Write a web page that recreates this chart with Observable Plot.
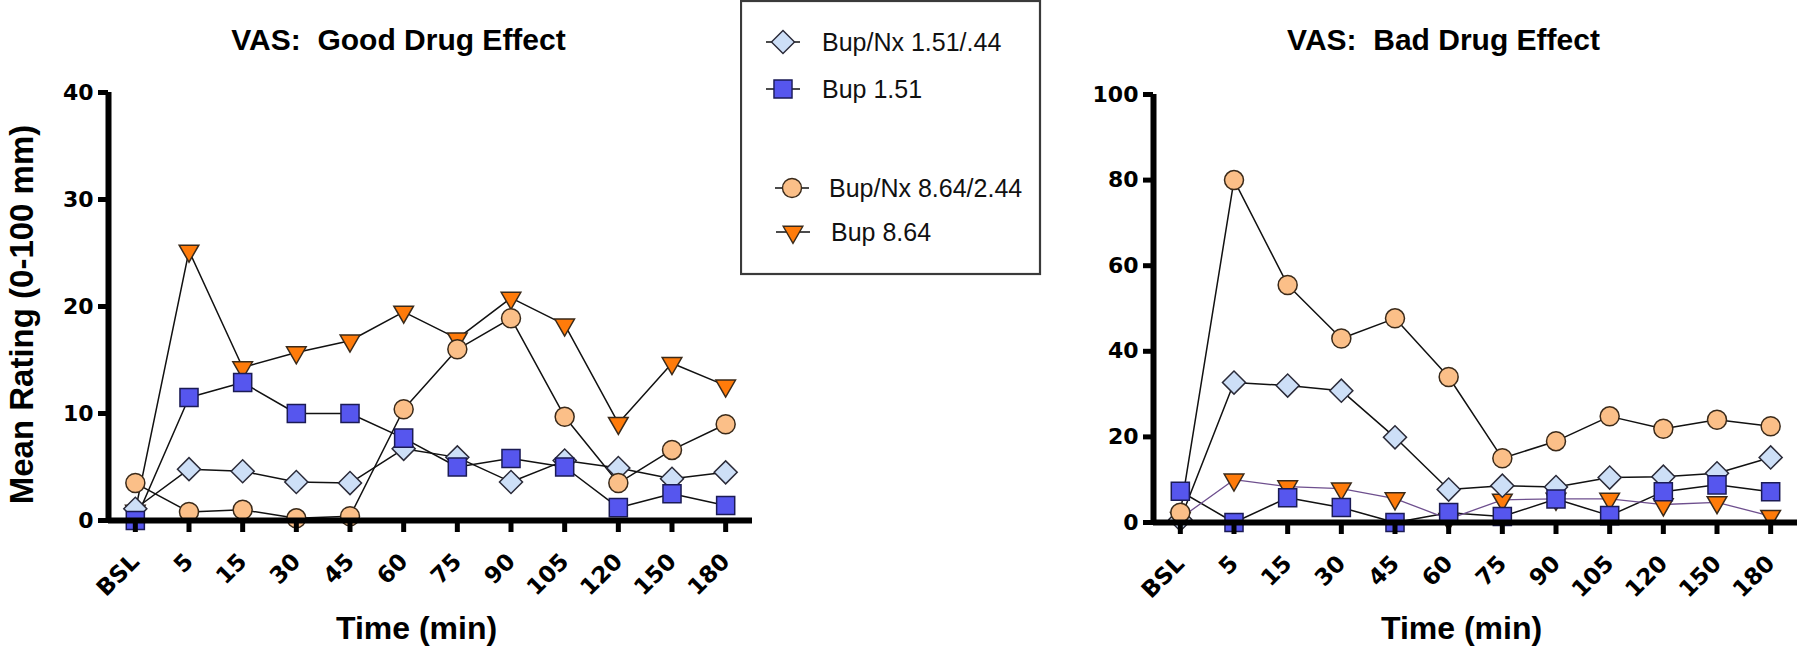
<!DOCTYPE html>
<html><head><meta charset="utf-8">
<script src="https://cdn.jsdelivr.net/npm/d3@7"></script>
<script src="https://cdn.jsdelivr.net/npm/@observablehq/plot@0.6"></script>
<style>
html,body{margin:0;padding:0;background:#fff;}
#chart{position:relative;width:1800px;height:652px;background:#fff;font-family:"Liberation Sans",Arial,sans-serif;overflow:hidden;}
#chart > div{position:absolute;top:0;}
</style></head><body><div id="chart"></div>
<script>
// ---------- data ----------
const times = ["BSL","5","15","30","45","60","75","90","105","120","150","180"];
const seriesNames = ["Bup/Nx 1.51/.44","Bup 1.51","Bup/Nx 8.64/2.44","Bup 8.64"];

// VAS: Good Drug Effect
const goodBupNx151 = [1.1, 4.8, 4.6, 3.6, 3.5, 6.7, 5.9, 3.6, 5.6, 4.9, 3.9, 4.5];
const goodBup151   = [0.0, 11.5, 12.9, 10.0, 10.0, 7.7, 5.0, 5.8, 5.0, 1.2, 2.5, 1.4];
const goodBupNx864 = [3.5, 0.8, 1.0, 0.2, 0.4, 10.4, 16.0, 18.9, 9.7, 3.5, 6.6, 9.0];
const goodBup864   = [0.9, 25.2, 14.3, 15.7, 16.8, 19.5, 17.0, 20.8, 18.3, 9.1, 14.7, 12.6];

// VAS: Bad Drug Effect
const badBupNx151 = [0.7, 32.7, 32.0, 30.8, 19.9, 7.7, 8.6, 8.3, 10.5, 10.7, 11.5, 15.2];
const badBup151   = [7.3, 0.0, 5.8, 3.5, 0.0, 2.3, 1.4, 5.5, 1.6, 7.2, 8.8, 7.2];
const badBupNx864 = [2.3, 80.0, 55.5, 43.0, 47.7, 34.0, 15.0, 19.0, 24.8, 21.9, 24.0, 22.5];
const badBup864   = [1.0, 10.0, 8.4, 7.9, 5.6, 0.8, 5.3, 5.5, 5.5, 4.2, 4.7, 1.5];

const goodTicks = [0, 10, 20, 30, 40];
const badTicks = [0, 20, 40, 60, 80, 100];

// ---------- styles ----------
const FONT = "'Liberation Sans', Arial, Helvetica, sans-serif";
const TICKFONT = "'DejaVu Sans', Verdana, sans-serif";
const styles = {
  "Bup/Nx 1.51/.44": {symbol: "square", rotate: 45, r: 9.2, fill: "#cddff7", stroke: "#2a2a38"},
  "Bup 1.51":        {symbol: "square", rotate: 0, r: 10.2, fill: "#5656ee", stroke: "#1b1b55"},
  "Bup/Nx 8.64/2.44":{symbol: "circle", rotate: 0, r: 9.5, fill: "#fbbf88", stroke: "#3a2a1a"},
  "Bup 8.64":        {symbol: "triangle", rotate: 180, r: 7.3, fill: "#ff7b0a", stroke: "#3a2a1a"}
};
const dotOrder = ["Bup 8.64", "Bup/Nx 1.51/.44", "Bup/Nx 8.64/2.44", "Bup 1.51"];

function panel(cfg) {
  const rows = name => cfg.values[name].map((v, i) => ({i, v, name}));
  const bottom = 652 - cfg.marginBottom;
  const marks = [];
  for (const name of seriesNames) {
    marks.push(Plot.line(rows(name), {x: "i", y: "v", stroke: (cfg.lineColors[name] || "#111"), strokeWidth: cfg.lineWidths[name] || 1.5}));
  }
  for (const name of dotOrder) {
    const s = styles[name];
    marks.push(Plot.dot(rows(name), {x: "i", y: "v", symbol: s.symbol, rotate: s.rotate, r: s.r, fill: s.fill, stroke: s.stroke, strokeWidth: 1.5}));
  }
  marks.push(
    Plot.ruleY([0], {strokeWidth: 6, stroke: "#000"}),
    Plot.ruleX([-0.5], {strokeWidth: 6, stroke: "#000"}),
    Plot.axisY({ticks: cfg.yTicks, tickSize: 10, tickPadding: 5, fontSize: 22, fontWeight: "bold", fontFamily: TICKFONT, strokeWidth: 5, label: null, fill: "#000"}),
    Plot.axisX({ticks: d3.range(times.length), tickSize: 12, tickFormat: () => "", strokeWidth: 5, label: null}),
    Plot.text(times, {x: (d, i) => i, text: d => d, frameAnchor: "bottom", rotate: -45, textAnchor: "end", lineAnchor: "middle", fontSize: 23, fontWeight: "bold", fontFamily: TICKFONT, fill: "#000"}),
    Plot.text([cfg.title], {text: d => d, frameAnchor: "top", lineAnchor: "bottom", dx: -32, dy: 49 - cfg.marginTop, fontSize: 30, fontWeight: "bold", fill: "#000"}),
    Plot.text(["Time (min)"], {text: d => d, frameAnchor: "bottom", lineAnchor: "bottom", dx: -14, dy: 638 - bottom, fontSize: 32, fontWeight: "bold", fill: "#000"})
  );
  if (cfg.yLabel) {
    marks.push(Plot.text([cfg.yLabel], {text: d => d, frameAnchor: "left", rotate: -90, lineAnchor: "bottom", textAnchor: "middle", dx: 32 - cfg.marginLeft, dy: 8, fontSize: 33, fontWeight: "bold", fill: "#000"}));
  }
  return Plot.plot({
    width: cfg.width, height: 652,
    marginLeft: cfg.marginLeft, marginRight: cfg.marginRight,
    marginTop: cfg.marginTop, marginBottom: cfg.marginBottom,
    x: {domain: [-0.5, times.length - 0.5]},
    y: {domain: cfg.yDomain},
    style: {fontFamily: FONT, background: "transparent", overflow: "visible"},
    marks
  });
}

// After the plot is in the page: hang each rotated time label so that its box
// ends just right of its tick and starts a fixed gap below the axis.
function hangTickLabels(svg, axisPixelY) {
  const sr = svg.getBoundingClientRect();
  svg.querySelectorAll("text").forEach(t => {
    const tr = t.getAttribute("transform") || "";
    if (!/rotate\(\s*-45/.test(tr) || !times.includes(t.textContent)) return;
    const m = tr.match(/translate\(\s*([-\d.e]+)[\s,]+([-\d.e]+)\s*\)/);
    if (!m) return;
    const g = t.parentNode;
    const gm = (g.getAttribute("transform") || "").match(/translate\(\s*([-\d.e]+)[\s,]+([-\d.e]+)\s*\)/);
    const tickX = +m[1] + (gm ? +gm[1] : 0);
    const r = t.getBoundingClientRect();
    const right = r.right - sr.left, top = r.top - sr.top;
    const sx = tickX + 9 - right, sy = axisPixelY + 28 - top;
    t.setAttribute("transform", `translate(${sx.toFixed(2)},${sy.toFixed(2)}) ` + tr);
  });
}

const chart = document.getElementById("chart");

const left = document.createElement("div");
left.style.left = "0px";
const leftCfg = {
  width: 770, marginLeft: 108, marginRight: 18, marginTop: 92, marginBottom: 132,
  yDomain: [0, 40], yTicks: goodTicks,
  title: "VAS:  Good Drug Effect", yLabel: "Mean Rating (0-100 mm)",
  values: {"Bup/Nx 1.51/.44": goodBupNx151, "Bup 1.51": goodBup151, "Bup/Nx 8.64/2.44": goodBupNx864, "Bup 8.64": goodBup864},
  lineColors: {}, lineWidths: {}
};
const leftSvg = panel(leftCfg);
left.appendChild(leftSvg);
chart.appendChild(left);
hangTickLabels(leftSvg, 652 - leftCfg.marginBottom);

const right = document.createElement("div");
right.style.left = "1045px";
const rightCfg = {
  width: 755, marginLeft: 108, marginRight: 3, marginTop: 94, marginBottom: 130,
  yDomain: [0, 100], yTicks: badTicks,
  title: "VAS:  Bad Drug Effect", yLabel: null,
  values: {"Bup/Nx 1.51/.44": badBupNx151, "Bup 1.51": badBup151, "Bup/Nx 8.64/2.44": badBupNx864, "Bup 8.64": badBup864},
  lineColors: {"Bup 8.64": "#6e4f8e"}, lineWidths: {"Bup 8.64": 1.3}
};
const rightSvg = panel(rightCfg);
right.appendChild(rightSvg);
chart.appendChild(right);
hangTickLabels(rightSvg, 652 - rightCfg.marginBottom);

// ---------- legend ----------
const legendDiv = document.createElement("div");
legendDiv.style.left = "740px";
const lw = 302, lh = 276;
const svg = d3.create("svg").attr("width", lw).attr("height", lh).style("font-family", FONT);
svg.append("rect").attr("x", 1).attr("y", 1).attr("width", 299).attr("height", 273)
  .attr("fill", "#fff").attr("stroke", "#3a3a3a").attr("stroke-width", 2.2);
const legendRows = [
  {name: seriesNames[0], sx: 43, y: 42, tx: 82},
  {name: seriesNames[1], sx: 43, y: 89, tx: 82},
  {name: seriesNames[2], sx: 52, y: 188, tx: 89},
  {name: seriesNames[3], sx: 53, y: 232, tx: 91}
];
const symTypes = {circle: d3.symbolCircle, square: d3.symbolSquare, triangle: d3.symbolTriangle};
for (const row of legendRows) {
  const s = styles[row.name];
  const g = svg.append("g");
  g.append("line").attr("x1", row.sx - 17).attr("x2", row.sx + 17).attr("y1", row.y).attr("y2", row.y)
    .attr("stroke", "#111").attr("stroke-width", 1.5);
  g.append("path")
    .attr("d", d3.symbol(symTypes[s.symbol], Math.PI * s.r * s.r)())
    .attr("transform", `translate(${row.sx},${row.y}) rotate(${s.rotate})`)
    .attr("fill", s.fill).attr("stroke", s.stroke).attr("stroke-width", 1.4);
  g.append("text").attr("x", row.tx).attr("y", row.y).attr("dy", "0.35em")
    .attr("font-size", 25).attr("fill", "#111").text(row.name);
}
legendDiv.appendChild(svg.node());
chart.appendChild(legendDiv);
</script>
</body></html>
